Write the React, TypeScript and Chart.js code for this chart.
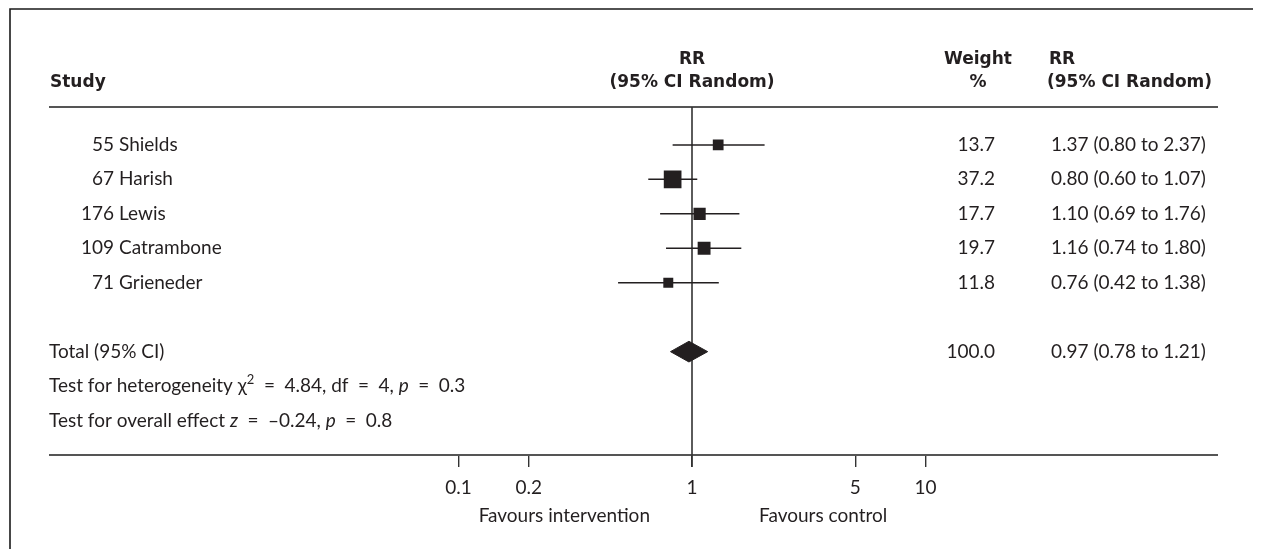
import React, { useEffect, useRef } from 'react';
import { Chart, registerables } from 'chart.js';

Chart.register(...registerables);

// ---------------- data ----------------
const studyIds = ['55', '67', '176', '109', '71'];
const studyNames = ['Shields', 'Harish', 'Lewis', 'Catrambone', 'Grieneder'];
const studyRR = [1.37, 0.8, 1.1, 1.16, 0.76];
const studyLow = [0.8, 0.6, 0.69, 0.74, 0.42];
const studyHigh = [2.37, 1.07, 1.76, 1.8, 1.38];
const studyWeight = [13.7, 37.2, 17.7, 19.7, 11.8];

const totalRR = 0.97;
const totalLow = 0.78;
const totalHigh = 1.21;
const totalWeight = 100.0;

const hetChi2 = 4.84;
const hetDf = 4;
const hetP = 0.3;
const overallZ = -0.24;
const overallP = 0.8;

const tickValues = [0.1, 0.2, 1, 5, 10];
const tickLabels = ['0.1', '0.2', '1', '5', '10'];

const headerStudy = 'Study';
const headerRR = ['RR', '(95% CI Random)'];
const headerWeight = ['Weight', '%'];
const favoursLeft = 'Favours intervention';
const favoursRight = 'Favours control';

// row indices on the y scale
const studyRows = studyIds.map((_, i) => i);
const totalRow = 6;
const hetRow = 7;
const overallRow = 8;

// ---------------- styles ----------------
const FAMILY = 'Lato, "Open Sans", sans-serif';
const SIZE = 19;
const REG = `${SIZE}px ${FAMILY}`;
const BOLD = `bold 17px "DejaVu Sans", ${FAMILY}`;
const ITAL = `italic ${SIZE}px ${FAMILY}`;
const SUP = `13px ${FAMILY}`;
const INK = '#231f20';
const SP = '\u2002';

const fmt2 = (v: number) => v.toFixed(2);
const fmtSigned = (v: number) => (v < 0 ? '\u2013' + Math.abs(v).toFixed(2) : v.toFixed(2));

type Run = { text: string; font: string; sup?: boolean };

function drawRuns(ctx: CanvasRenderingContext2D, runs: Run[], x: number, y: number) {
  let cx = x;
  for (const r of runs) {
    ctx.font = r.font;
    ctx.fillText(r.text, cx, r.sup ? y - 6 : y);
    cx += ctx.measureText(r.text).width;
  }
}

const tablePlugin = {
  id: 'forestTable',
  beforeDatasetsDraw(chart: any) {
    const { ctx, chartArea } = chart;
    const xt = chart.scales.xt;
    const W = chart.width;
    const H = chart.height;
    ctx.save();
    // frame (top + left)
    ctx.strokeStyle = '#1a1a1a';
    ctx.lineWidth = 1.6;
    ctx.beginPath();
    ctx.moveTo(2, H);
    ctx.lineTo(2, 1);
    ctx.lineTo(W, 1);
    ctx.stroke();
    // header and bottom rules
    ctx.strokeStyle = '#555';
    ctx.lineWidth = 2;
    ctx.beginPath();
    ctx.moveTo(41, chartArea.top);
    ctx.lineTo(1210, chartArea.top);
    ctx.moveTo(41, chartArea.bottom);
    ctx.lineTo(1210, chartArea.bottom);
    ctx.stroke();
    // line of no effect
    const x1 = xt.getPixelForValue(1);
    ctx.strokeStyle = '#333';
    ctx.lineWidth = 1.6;
    ctx.beginPath();
    ctx.moveTo(x1, chartArea.top);
    ctx.lineTo(x1, chartArea.bottom + 12);
    ctx.stroke();
    ctx.restore();
  },
  afterDraw(chart: any) {
    const { ctx, chartArea } = chart;
    const y = chart.scales.y;
    const xt = chart.scales.xt;
    const x1 = xt.getPixelForValue(1);
    ctx.save();
    ctx.fillStyle = INK;
    ctx.textBaseline = 'middle';

    const hdr2 = chartArea.top - 24;
    const hdr1 = chartArea.top - 47;
    const colIdRight = 106;
    const colName = 111;
    const colLeft = 41;
    const colWeight = 987;
    const colWeightHdr = 970;
    const colRR = 1043;
    const colRRHdr = 1039;

    // headers
    ctx.font = BOLD;
    ctx.textAlign = 'left';
    ctx.fillText(headerStudy, 42, hdr2);
    ctx.textAlign = 'center';
    ctx.fillText(headerRR[0], x1, hdr1);
    ctx.fillText(headerRR[1], x1, hdr2);
    ctx.fillText(headerWeight[0], colWeightHdr, hdr1);
    ctx.fillText(headerWeight[1], colWeightHdr, hdr2);
    ctx.textAlign = 'left';
    ctx.fillText(headerRR[0], colRRHdr + 2, hdr1);
    ctx.fillText(headerRR[1], colRRHdr, hdr2);

    // study rows
    ctx.font = REG;
    studyRows.forEach((row, i) => {
      const py = y.getPixelForValue(row);
      ctx.textAlign = 'right';
      ctx.fillText(studyIds[i], colIdRight, py);
      ctx.fillText(studyWeight[i].toFixed(1), colWeight, py);
      ctx.textAlign = 'left';
      ctx.fillText(studyNames[i], colName, py);
      ctx.fillText(
        `${fmt2(studyRR[i])} (${fmt2(studyLow[i])} to ${fmt2(studyHigh[i])})`,
        colRR,
        py
      );
    });

    // total row
    const ty = y.getPixelForValue(totalRow);
    ctx.textAlign = 'left';
    ctx.fillText('Total (95% CI)', colLeft, ty);
    ctx.fillText(`${fmt2(totalRR)} (${fmt2(totalLow)} to ${fmt2(totalHigh)})`, colRR, ty);
    ctx.textAlign = 'right';
    ctx.fillText(totalWeight.toFixed(1), colWeight, ty);
    ctx.textAlign = 'left';

    // tests
    drawRuns(
      ctx,
      [
        { text: 'Test for heterogeneity \u03c7', font: REG },
        { text: '2', font: SUP, sup: true },
        { text: `${SP}=${SP}${fmt2(hetChi2)}, df${SP}=${SP}${hetDf}, `, font: REG },
        { text: 'p', font: ITAL },
        { text: `${SP}=${SP}${hetP}`, font: REG },
      ],
      colLeft,
      y.getPixelForValue(hetRow)
    );
    drawRuns(
      ctx,
      [
        { text: 'Test for overall effect ', font: REG },
        { text: 'z', font: ITAL },
        { text: `${SP}=${SP}${fmtSigned(overallZ)}, `, font: REG },
        { text: 'p', font: ITAL },
        { text: `${SP}=${SP}${overallP}`, font: REG },
      ],
      colLeft,
      y.getPixelForValue(overallRow)
    );

    // favours labels
    const fy = chartArea.bottom + 61;
    ctx.font = REG;
    ctx.textAlign = 'right';
    ctx.fillText(favoursLeft, x1 - 42, fy);
    ctx.textAlign = 'left';
    ctx.fillText(favoursRight, x1 + 67, fy);
    ctx.restore();
  },
};

export default function App() {
  const ref = useRef<HTMLCanvasElement | null>(null);

  useEffect(() => {
    if (!ref.current) return;
    const squareData = studyRR.map((v, i) => ({ x: v, y: studyRows[i] }));
    const squareRadius = studyWeight.map((w) => 2.05 * Math.sqrt(w));
    const ciDatasets = studyRows.map((row, i) => ({
      type: 'line' as const,
      data: [
        { x: studyLow[i], y: row },
        { x: studyHigh[i], y: row },
      ],
      xAxisID: 'x',
      yAxisID: 'y',
      borderColor: INK,
      borderWidth: 1.5,
      pointRadius: 0,
      fill: false,
      order: 2,
    }));
    const diamond = {
      type: 'line' as const,
      data: [
        { x: totalLow, y: totalRow },
        { x: totalRR, y: totalRow - 0.3 },
        { x: totalHigh, y: totalRow },
        { x: totalRR, y: totalRow + 0.3 },
        { x: totalLow, y: totalRow },
      ],
      xAxisID: 'x',
      yAxisID: 'y',
      borderColor: INK,
      borderWidth: 1,
      backgroundColor: INK,
      pointRadius: 0,
      fill: 'shape',
      tension: 0,
      order: 1,
    };

    const chart = new Chart(ref.current, {
      type: 'scatter',
      data: {
        datasets: [
          {
            data: squareData,
            xAxisID: 'x',
            yAxisID: 'y',
            pointStyle: 'rect',
            pointRadius: squareRadius,
            backgroundColor: INK,
            borderColor: INK,
            borderWidth: 0,
            order: 0,
          } as any,
          ...ciDatasets,
          diamond as any,
        ],
      },
      options: {
        animation: false,
        responsive: false,
        events: [],
        layout: { padding: { left: 450.5, right: 335.5, top: 99, bottom: 54 } },
        plugins: { legend: { display: false }, tooltip: { enabled: false } },
        scales: {
          x: {
            type: 'logarithmic',
            display: false,
            min: 0.0638,
            max: 15.85,
          },
          xt: {
            type: 'logarithmic',
            axis: 'x',
            position: 'bottom',
            min: 0.1,
            max: 10,
            afterBuildTicks: (s: any) => {
              s.ticks = tickValues.map((v) => ({ value: v }));
            },
            afterFit: (s: any) => {
              s.height = 40;
            },
            grid: {
              drawOnChartArea: false,
              drawTicks: true,
              tickLength: 12,
              color: '#333',
              lineWidth: 1.4,
            },
            border: { display: false },
            ticks: {
              autoSkip: false,
              maxRotation: 0,
              padding: 9,
              color: INK,
              font: { family: FAMILY, size: SIZE },
              callback: (_v: any, i: number) => tickLabels[i],
            },
          } as any,
          y: {
            type: 'linear',
            display: false,
            reverse: true,
            min: -1.1,
            max: 9,
          },
        },
      },
      plugins: [tablePlugin],
    });
    return () => chart.destroy();
  }, []);

  return (
    <div style={{ width: 1253, height: 541 }}>
      <canvas ref={ref} width={1253} height={541} style={{ display: 'block' }} />
    </div>
  );
}
